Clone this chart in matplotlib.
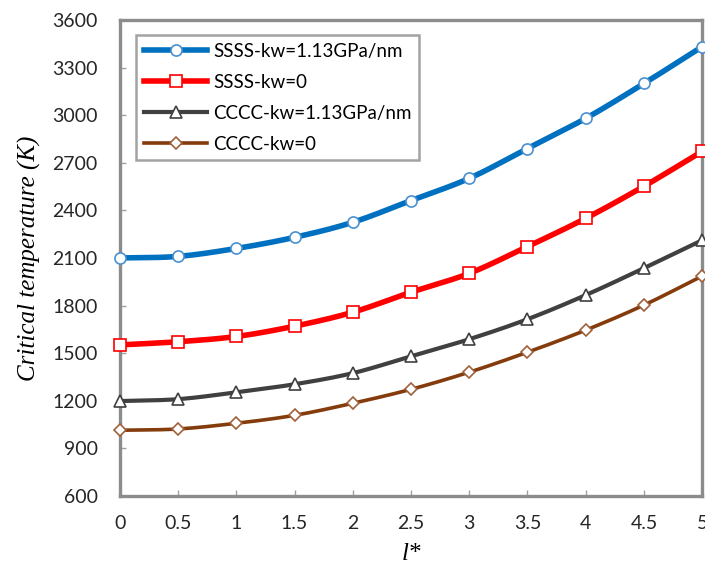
import numpy as np
import matplotlib
matplotlib.use("Agg")
import matplotlib.pyplot as plt
from matplotlib.ticker import MultipleLocator

x = [0, 0.5, 1, 1.5, 2, 2.5, 3, 3.5, 4, 4.5, 5]
ssss_kw = [2100, 2110, 2160, 2230, 2325, 2462, 2602, 2790, 2980, 3200, 3432]
ssss_0 = [1552, 1572, 1605, 1670, 1758, 1884, 2003, 2172, 2350, 2552, 2772]
cccc_kw = [1198, 1210, 1253, 1304, 1374, 1480, 1588, 1714, 1866, 2036, 2212]
cccc_0 = [1014, 1022, 1058, 1108, 1184, 1272, 1380, 1506, 1645, 1803, 1986]
labels = ["SSSS-kw=1.13GPa/nm", "SSSS-kw=0", "CCCC-kw=1.13GPa/nm", "CCCC-kw=0"]
xticks = [0, 0.5, 1, 1.5, 2, 2.5, 3, 3.5, 4, 4.5, 5]
ytick_step = 300


def smooth(px, py, n=20):
    px = np.asarray(px, float)
    py = np.asarray(py, float)
    P = np.column_stack([px, py])
    P = np.vstack([2 * P[0] - P[1], P, 2 * P[-1] - P[-2]])
    out = []
    t = np.linspace(0, 1, n, endpoint=False)[:, None]
    for i in range(1, len(P) - 2):
        p0, p1, p2, p3 = P[i - 1], P[i], P[i + 1], P[i + 2]
        m1 = (p2 - p0) / 2
        m2 = (p3 - p1) / 2
        h00 = 2 * t**3 - 3 * t**2 + 1
        h10 = t**3 - 2 * t**2 + t
        h01 = -2 * t**3 + 3 * t**2
        h11 = t**3 - t**2
        out.append(h00 * p1 + h10 * m1 + h01 * p2 + h11 * m2)
    out.append(P[-2][None, :])
    S = np.vstack(out)
    return S[:, 0], S[:, 1]


fig = plt.figure(figsize=(7.05, 5.72), dpi=100)
ax = fig.add_axes([0.170, 0.133, 0.826, 0.832])

series = [
    (ssss_kw, "#0070C0", 4.0, "o", 8, "#4A90D0"),
    (ssss_0, "#FF0000", 4.0, "s", 8.5, "#FF0000"),
    (cccc_kw, "#404040", 3.0, "^", 9, "#404040"),
    (cccc_0, "#843C0C", 2.6, "D", 6.5, "#A0603A"),
]
handles = []
for (ys, col, lw, mk, ms, mec), lab in zip(series, labels):
    sx, sy = smooth(x, ys)
    ax.plot(sx, sy, color=col, lw=lw, solid_capstyle="round", zorder=2)
    ax.plot(x, ys, ls="none", marker=mk, ms=ms, mfc="white", mec=mec, mew=1.2,
            clip_on=False, zorder=3)
    h, = ax.plot([], [], color=col, lw=lw, marker=mk, ms=ms, mfc="white",
                 mec=mec, mew=1.2, label=lab)
    handles.append(h)

ax.set_xlim(0, 5)
ax.set_ylim(600, 3600)
ax.set_xticks(xticks)
ax.set_xticklabels([f"{v:g}" for v in xticks])
ax.yaxis.set_major_locator(MultipleLocator(ytick_step))

for s in ax.spines.values():
    s.set_color("#8C8C8C")
    s.set_linewidth(2.4)

ax.tick_params(direction="in", length=4, width=1, color="#A0A0A0",
               labelsize=14, labelcolor="#262626")
ax.tick_params(axis="y", pad=16)
ax.tick_params(axis="x", pad=14)
for lbl in ax.get_xticklabels() + ax.get_yticklabels():
    lbl.set_family("Lato")

ax.set_ylabel("Critical temperature (K)", family="Liberation Serif",
              style="italic", fontsize=18, labelpad=8)
ax.set_xlabel("l*", family="Liberation Serif", style="italic", fontsize=18,
              labelpad=8)

leg = ax.legend(handles=handles, loc="upper left", bbox_to_anchor=(0.028, 0.968),
                frameon=True, fancybox=False, handlelength=3.4,
                prop={"family": "Lato", "size": 13.5}, labelspacing=0.75,
                borderpad=0.4, handletextpad=0.3, borderaxespad=0)
leg.get_frame().set_edgecolor("#8C8C8C")
leg.get_frame().set_linewidth(1.8)

fig.savefig("out.png", dpi=100)
